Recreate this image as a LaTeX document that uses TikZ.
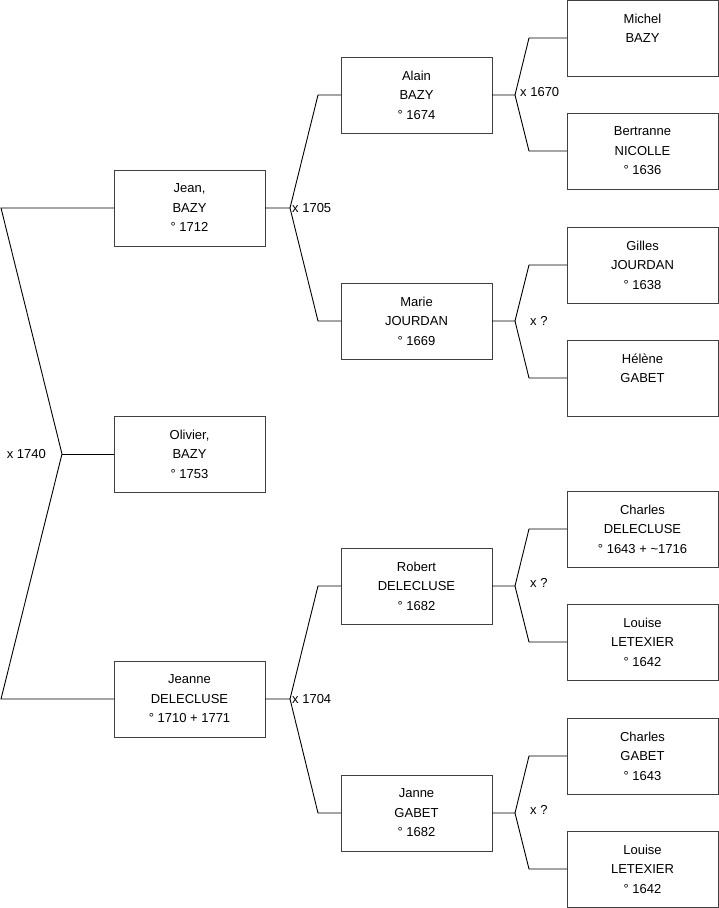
\documentclass[tikz,border=0pt]{standalone}
\usepackage{fontspec}
\setmainfont{Liberation Sans}
\usetikzlibrary{positioning}

\begin{document}
\begin{tikzpicture}[
    x=1pt, y=-1pt,
    person/.style={rectangle,draw=black!75,align=center,minimum width=151pt,minimum height=76pt,inner sep=0pt,outer sep=0pt,line width=0.9pt,font=\fontsize{13}{19.5}\selectfont},
    link/.style={draw=black,line width=0.9pt},
    union/.style={inner sep=0pt,anchor=west,font=\fontsize{13}{15}\selectfont}
]
\useasboundingbox (0,0) rectangle (719,908);

% children generation
\node[person] (olivier) at (189.5,454) {Olivier,\\BAZY\\° 1753};
\node[person, above=170pt of olivier] (jean) {Jean,\\BAZY\\° 1712};
\node[person, below=169pt of olivier] (jeanne) {Jeanne\\DELECLUSE\\° 1710 + 1771};

% parents
\node[person] (alain) at (416.5,95) {Alain\\BAZY\\° 1674};
\node[person] (marie) at (416.5,321) {Marie\\JOURDAN\\° 1669};
\node[person] (robert) at (416.5,586) {Robert\\DELECLUSE\\° 1682};
\node[person] (janne) at (416.5,813) {Janne\\GABET\\° 1682};

% grandparents
\node[person] (michel) at (642.5,38) {Michel\\BAZY\\~};
\node[person, below=37pt of michel] (bertranne) {Bertranne\\NICOLLE\\° 1636};
\node[person, below=38pt of bertranne] (gilles) {Gilles\\JOURDAN\\° 1638};
\node[person, below=37pt of gilles] (helene) {Hélène\\GABET\\~};
\node[person, below=75pt of helene] (charlesd) {Charles\\DELECLUSE\\° 1643 + \textasciitilde 1716};
\node[person, below=37pt of charlesd] (louisel) {Louise\\LETEXIER\\° 1642};
\node[person, below=38pt of louisel] (charlesg) {Charles\\GABET\\° 1643};
\node[person, below=37pt of charlesg] (louisem) {Louise\\LETEXIER\\° 1642};

% marriages
\coordinate (m1740) at (62,454);
\draw[link] (jean.west) -- ++(-113,0) -- (m1740) -- ([xshift=-113pt]jeanne.west) -- (jeanne.west);
\draw[link] (m1740) -- (olivier.west);
\node[union, anchor=east, left=16pt of m1740] (l1740) {x 1740};

\coordinate[right=25pt of jean.east] (m1705);
\draw[link] (jean.east) -- (m1705) -- ([xshift=-23pt]alain.west) -- (alain.west);
\draw[link] (m1705) -- ([xshift=-23pt]marie.west) -- (marie.west);
\node[union, right=2pt of m1705] (l1705) {x 1705};

\coordinate[right=25pt of jeanne.east] (m1704);
\draw[link] (jeanne.east) -- (m1704) -- ([xshift=-23pt]robert.west) -- (robert.west);
\draw[link] (m1704) -- ([xshift=-23pt]janne.west) -- (janne.west);
\node[union, right=2pt of m1704] (l1704) {x 1704};

\coordinate[right=23pt of alain.east] (m1670);
\draw[link] (alain.east) -- (m1670) -- ([xshift=-38pt]michel.west) -- (michel.west);
\draw[link] (m1670) -- ([xshift=-38pt]bertranne.west) -- (bertranne.west);
\node[union, right=5pt of m1670, yshift=3pt] (l1670) {x 1670};

\coordinate[right=23pt of marie.east] (mmarie);
\draw[link] (marie.east) -- (mmarie) -- ([xshift=-38pt]gilles.west) -- (gilles.west);
\draw[link] (mmarie) -- ([xshift=-38pt]helene.west) -- (helene.west);
\node[union, right=15pt of mmarie] (lmarie) {x ?};

\coordinate[right=23pt of robert.east] (mrobert);
\draw[link] (robert.east) -- (mrobert) -- ([xshift=-38pt]charlesd.west) -- (charlesd.west);
\draw[link] (mrobert) -- ([xshift=-38pt]louisel.west) -- (louisel.west);
\node[union, right=15pt of mrobert, yshift=3pt] (lrobert) {x ?};

\coordinate[right=23pt of janne.east] (mjanne);
\draw[link] (janne.east) -- (mjanne) -- ([xshift=-38pt]charlesg.west) -- (charlesg.west);
\draw[link] (mjanne) -- ([xshift=-38pt]louisem.west) -- (louisem.west);
\node[union, right=15pt of mjanne, yshift=3pt] (ljanne) {x ?};
\end{tikzpicture}
\end{document}
